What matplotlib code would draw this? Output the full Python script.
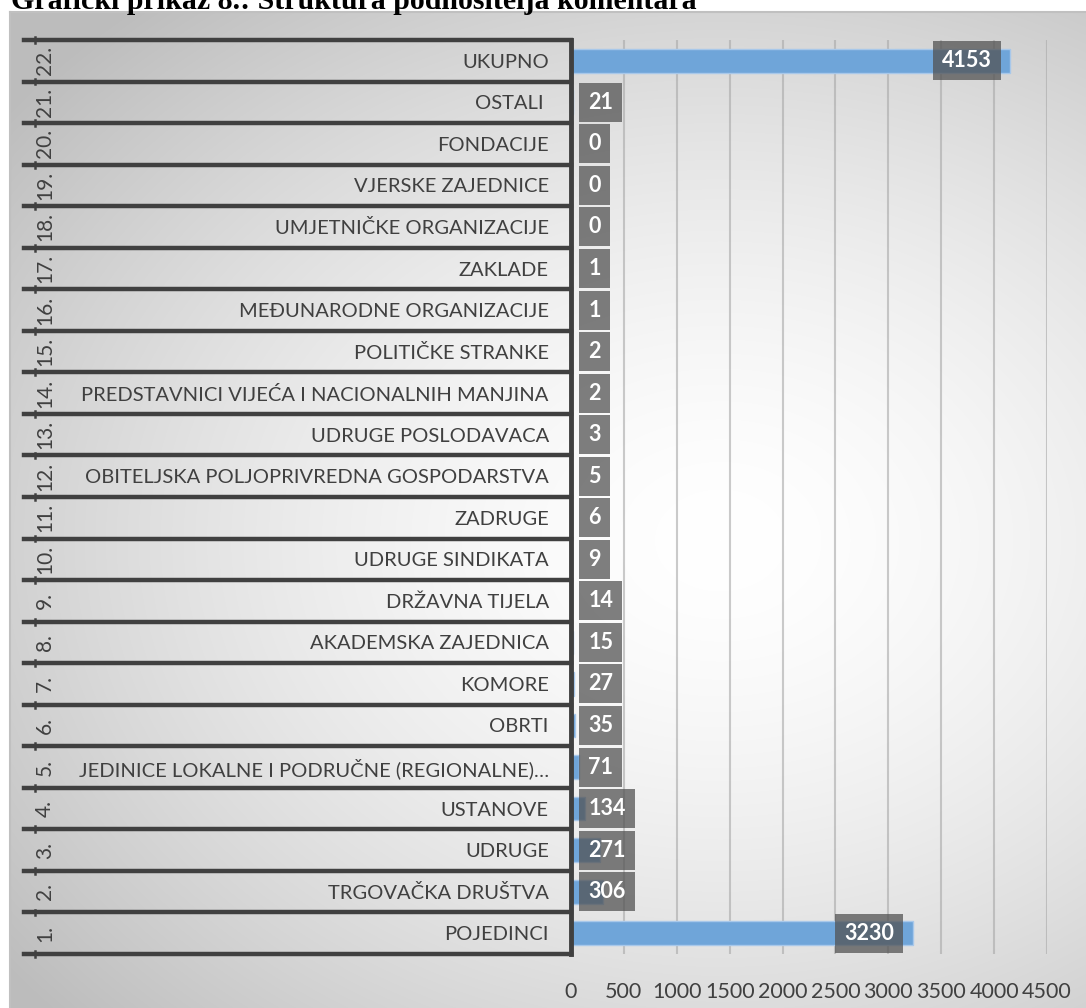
import numpy as np
import matplotlib
matplotlib.use("Agg")
import matplotlib.pyplot as plt
import matplotlib.transforms as mtransforms

# data (bottom -> top, as drawn)
row_numbers = ["%d." % i for i in range(1, 23)]
categories = [
    "POJEDINCI",
    "TRGOVAČKA DRUŠTVA",
    "UDRUGE",
    "USTANOVE",
    "JEDINICE LOKALNE I PODRUČNE (REGIONALNE)…",
    "OBRTI",
    "KOMORE",
    "AKADEMSKA ZAJEDNICA",
    "DRŽAVNA TIJELA",
    "UDRUGE SINDIKATA",
    "ZADRUGE",
    "OBITELJSKA POLJOPRIVREDNA GOSPODARSTVA",
    "UDRUGE POSLODAVACA",
    "PREDSTAVNICI VIJEĆA I NACIONALNIH MANJINA",
    "POLITIČKE STRANKE",
    "MEĐUNARODNE ORGANIZACIJE",
    "ZAKLADE",
    "UMJETNIČKE ORGANIZACIJE",
    "VJERSKE ZAJEDNICE",
    "FONDACIJE",
    "OSTALI ",
    "UKUPNO",
]
values = [3230, 306, 271, 134, 71, 35, 27, 15, 14, 9, 6, 5, 3, 2, 2, 1, 1, 0, 0, 0, 21, 4153]
x_ticks = [0, 500, 1000, 1500, 2000, 2500, 3000, 3500, 4000, 4500]
title = "Grafički prikaz 8.: Struktura podnositelja komentara"

W, H = 1086, 1008
plt.rcParams['font.family'] = ['Lato', 'DejaVu Sans']
txt_col = '#404040'

fig = plt.figure(figsize=(W / 100, H / 100), dpi=100)

# background: radial grey gradient in the chart frame
bg = fig.add_axes([0, 0, 1, 1], zorder=-5)
bg.set_xlim(0, W)
bg.set_ylim(H, 0)
bg.axis('off')
yy, xx = np.mgrid[12:H, 10:W]
cx, cy = 720, 540
r = np.sqrt(((xx - cx) / 900.0) ** 2 + ((yy - cy) / 700.0) ** 2)
shade = 1.0 - 0.26 * np.clip(r, 0, 1) ** 1.6
img = np.dstack([shade, shade, shade])
bg.imshow(img, extent=[10, W, H, 12], aspect='auto', interpolation='bilinear')
bg.plot([10, W], [12, 12], color='#c0c0c0', lw=1.5)
bg.plot([10, 10], [12, H], color='#c0c0c0', lw=1.5)
# title is clipped at the top edge, as in the source
bg.text(11, 9, title, fontsize=21.5, fontweight='bold', family='Liberation Serif',
        va='baseline', ha='left', color='black')

# main bar axes
left, right, top, bottom = 571, 1047, 40, 954
ax = fig.add_axes([left / W, 1 - bottom / H, (right - left) / W, (bottom - top) / H])
ax.patch.set_alpha(0)
n = len(values)
ypos = np.arange(n)
ax.barh(ypos, values, height=0.57, color='#6fa5d9', edgecolor='#a8c8ea', lw=1, zorder=3)
ax.set_xlim(0, 4500)
ax.set_ylim(-0.5, n - 0.5)
ax.set_xticks(x_ticks)
ax.set_xticklabels([str(t) for t in x_ticks])
ax.tick_params(axis='x', length=0, pad=20, labelsize=15.5, labelcolor=txt_col)
ax.set_yticks(ypos)
ax.set_yticklabels(categories)
ax.tick_params(axis='y', length=0, pad=16, labelsize=14.5, labelcolor=txt_col)
ax.grid(axis='x', color='#a8a8a8', lw=1.5, alpha=0.6, zorder=0)
for s in ax.spines.values():
    s.set_visible(False)

# table-like category axis lines
tr = mtransforms.blended_transform_factory(ax.transAxes, ax.transData)
x_line = (24 - left) / (right - left)
x_tick = (35 - left) / (right - left)
x_num = (45 - left) / (right - left)
for b in np.arange(-0.5, n, 1.0):
    ax.plot([x_line, 0], [b, b], transform=tr, color='#404040', lw=3.2, clip_on=False, zorder=4)
    ax.plot([x_tick, x_tick], [b - 0.07, b + 0.07], transform=tr, color='#404040', lw=1.8,
            clip_on=False, zorder=4)
ax.plot([0, 0], [-0.5, n - 0.5], transform=tr, color='#404040', lw=3.5, clip_on=False, zorder=4)
for i, lab in enumerate(row_numbers):
    ax.text(x_num, i, lab, transform=tr, rotation=90, ha='center', va='center',
            fontsize=15, color=txt_col)

# data labels
box = dict(boxstyle='square,pad=0.42', fc='#525252', ec='none', alpha=0.74)
for i, v in enumerate(values):
    if v > 1000:
        ax.text(v - 175, i, str(v), ha='right', va='center', fontsize=15.5, fontweight='bold',
                color='white', zorder=6, bbox=box)
    else:
        ax.text(165, i, str(v), ha='left', va='center', fontsize=15.5, fontweight='bold',
                color='white', zorder=6, bbox=box)

fig.savefig('out.png', dpi=100)
